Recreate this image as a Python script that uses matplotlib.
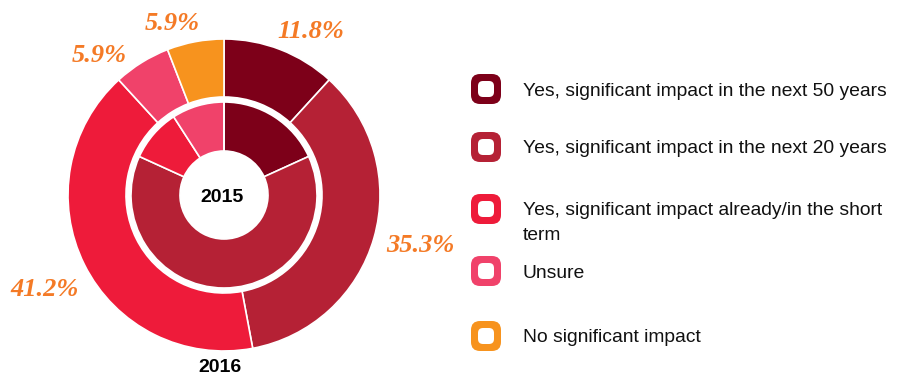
import matplotlib.pyplot as plt
from matplotlib.patches import FancyBboxPatch

# survey answers, same category order for both rings
categories = [
    "Yes, significant impact in the next 50 years",
    "Yes, significant impact in the next 20 years",
    "Yes, significant impact already/in the short\nterm",
    "Unsure",
    "No significant impact",
]
share_2016 = [11.8, 35.3, 41.2, 5.9, 5.9]
share_2015 = [18.2, 63.6, 9.1, 9.1, 0.0]
colors = ["#7D0019", "#B52135", "#EE1B3A", "#F0426A", "#F7931E"]
label_color = "#F47A26"

W, H = 904, 378
fig = plt.figure(figsize=(W / 100, H / 100), dpi=100)
ax = fig.add_axes([0, 0, 1, 1])

cx, cy = 224, H - 195
edge = dict(edgecolor="white", linewidth=1.2)

# outer ring = 2016, inner ring = 2015
ax.pie(share_2016, colors=colors, radius=156, center=(cx, cy),
       startangle=90, counterclock=False, frame=True,
       wedgeprops=dict(width=58, **edge))
ax.pie(share_2015, colors=colors, radius=93, center=(cx, cy),
       startangle=90, counterclock=False, frame=True,
       wedgeprops=dict(width=49, **edge))
ax.set_xlim(0, W)
ax.set_ylim(0, H)
ax.set_aspect("equal")
ax.axis("off")

# percentage labels around the outer ring (x, y from top)
label_pos = [(311, 31), (420, 246), (45, 290), (99, 56), (172, 23)]
for val, (lx, ly) in zip(share_2016, label_pos):
    ax.text(lx, H - ly, f"{val:.1f}%", color=label_color, fontsize=19,
            family="Liberation Serif", style="italic", weight="bold",
            ha="center", va="center")

ax.text(222, H - 198, "2015", fontsize=14, weight="bold",
        family="Liberation Sans", ha="center", va="center")
ax.text(220, H - 367, "2016", fontsize=14, weight="bold",
        family="Liberation Sans", ha="center", va="center")

# legend with rounded square ring icons
row_y = [89, 147, 209, 271, 336]
for name, col, ry in zip(categories, colors, row_y):
    y = H - ry
    ax.add_patch(FancyBboxPatch((471 + 6, y - 15 + 6), 18, 18,
                                boxstyle="round,pad=6,rounding_size=9",
                                facecolor=col, edgecolor="none"))
    ax.add_patch(FancyBboxPatch((478 + 4, y - 8 + 4), 8, 8,
                                boxstyle="round,pad=4,rounding_size=5",
                                facecolor="white", edgecolor="none"))
    for i, line in enumerate(name.split("\n")):
        ax.text(523, y - 25 * i, line, fontsize=13.9,
                family="Liberation Sans", color="#111111",
                ha="left", va="center_baseline")

fig.savefig("out.png", dpi=100)
